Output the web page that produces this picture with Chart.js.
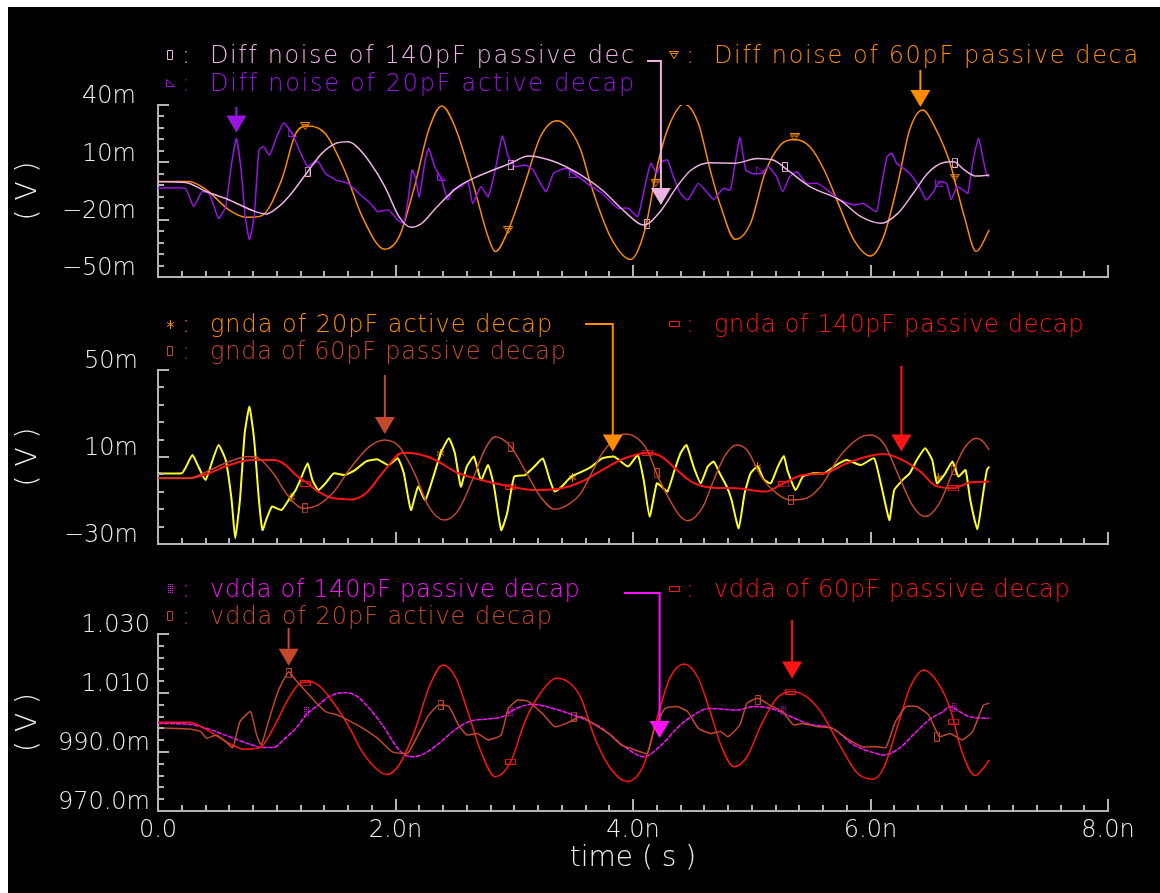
<!DOCTYPE html>
<html>
<head>
<meta charset="utf-8">
<title>decap noise waveforms</title>
<script src="https://cdn.jsdelivr.net/npm/chart.js@4.4.1/dist/chart.umd.min.js"></script>
<style>
  html, body { margin: 0; padding: 0; background: #fff; overflow: hidden; }
  #frame { position: absolute; left: 8px; top: 7px; width: 1152px; height: 886px; background: #000; }
  canvas { position: absolute; left: 0; top: 0; }
</style>
</head>
<body>
<div id="frame"></div>
<canvas id="p1" width="1160" height="893"></canvas>
<canvas id="p2" width="1160" height="893"></canvas>
<canvas id="p3" width="1160" height="893"></canvas>
<script>
// time axis, ns
const timeMajors = [0, 2, 4, 6, 8];
const timeLabels = ['0.0', '2.0n', '4.0n', '6.0n', '8.0n'];

// ---- panel 1 : Diff noise, mV ----
const diffTicks = [-50, -20, 10, 40];
const diffNoise140 = [[0,-0.1],[0.23,-0.5],[0.41,-5.4],[0.6,-9.7],[0.82,-15.8],[0.91,-17],[1.0,-14],[1.1,-8],[1.26,5.1],[1.38,14.7],[1.5,20],[1.6,20.8],[1.66,19],[1.79,9.5],[1.91,-2.7],[2.03,-18.4],[2.13,-24],[2.22,-22],[2.35,-13.2],[2.53,-2.7],[2.72,3.4],[2.97,9.5],[3.12,13.3],[3.34,10.3],[3.56,3.4],[3.74,-4.5],[3.93,-15.8],[4.09,-22.8],[4.24,-14.9],[4.37,-2.7],[4.49,6],[4.65,9.8],[4.86,9.5],[5.05,12],[5.18,11.2],[5.3,6],[5.49,-2.7],[5.74,-9.7],[5.92,-18.4],[6.09,-21.9],[6.23,-16.7],[6.36,-6.2],[6.48,4.2],[6.61,9.8],[6.7,10.3],[6.79,6],[6.89,2.8],[7.0,3.4]];
const diffNoise20 = [[0,-3.6],[0.23,-3.6],[0.3,-13.2],[0.37,-5.4],[0.43,-6.2],[0.51,-19.3],[0.57,-13.2],[0.62,9.5],[0.66,22.5],[0.7,6],[0.735,-18.4],[0.77,-30.6],[0.81,-18.4],[0.85,16.4],[0.89,18.2],[0.94,13.8],[1.0,23.4],[1.06,30.7],[1.13,25],[1.19,16.4],[1.26,7.7],[1.3,9.5],[1.35,10.3],[1.41,4.2],[1.5,0.7],[1.6,-1],[1.69,-6.2],[1.79,-11.5],[1.85,-15.8],[1.94,-14.9],[2.02,-20.2],[2.07,-21.9],[2.11,-8],[2.14,6],[2.17,1.6],[2.2,-8],[2.25,11.2],[2.28,17.3],[2.33,7.7],[2.39,0.7],[2.44,-9.7],[2.48,-4.5],[2.55,-2.7],[2.61,-0.1],[2.65,-11.5],[2.72,-2.7],[2.78,-8],[2.84,6],[2.9,23.8],[2.95,12.9],[3.01,7.7],[3.09,8.6],[3.16,6],[3.22,-1],[3.27,-5.4],[3.33,4.2],[3.44,6.9],[3.56,1.6],[3.65,-2.7],[3.74,-6.2],[3.87,-14],[3.96,-14],[4.04,-18.4],[4.1,-2.7],[4.15,9.5],[4.2,4.2],[4.24,10.3],[4.29,11.2],[4.34,2.5],[4.4,-6.2],[4.46,-9.7],[4.55,-1],[4.62,-5.4],[4.68,-9.4],[4.76,-3.6],[4.82,-4.5],[4.86,9.5],[4.9,23],[4.95,6],[5.0,4.2],[5.08,4.2],[5.14,7.7],[5.21,2.5],[5.26,-5.4],[5.32,2.5],[5.38,5.1],[5.46,-1],[5.55,-1],[5.64,-4.5],[5.74,-9.7],[5.86,-12.3],[5.94,-11.5],[6.05,-15.8],[6.09,-2.7],[6.14,13],[6.18,14.7],[6.22,9.5],[6.26,7.7],[6.33,4.2],[6.41,-2.7],[6.47,-9.7],[6.53,-5.4],[6.58,-0.1],[6.64,-1],[6.68,-9.4],[6.73,-2.7],[6.78,-4.5],[6.82,-6.2],[6.86,9.5],[6.91,22.5],[6.95,11.2],[6.98,3.1],[7.0,2.5]];
const diffNoise60 = [[0,0],[0.26,0],[0.41,-4.5],[0.6,-15],[0.75,-18.8],[0.87,-18],[1.04,0.7],[1.16,25],[1.26,29],[1.41,25],[1.57,6],[1.72,-18.4],[1.91,-35.5],[2.03,-29],[2.16,-2.7],[2.28,27],[2.39,39.5],[2.5,28.7],[2.66,-2.7],[2.78,-29],[2.84,-36.7],[2.95,-25.4],[3.09,-1],[3.22,23.4],[3.36,31.8],[3.47,27],[3.56,16.4],[3.65,-2.7],[3.81,-29],[3.98,-40.8],[4.1,-25.4],[4.21,9.5],[4.3,28.7],[4.43,40.5],[4.55,30.4],[4.65,6],[4.74,-13.2],[4.86,-30.3],[4.99,-21.9],[5.11,4.2],[5.24,19],[5.36,22],[5.49,18.2],[5.61,6],[5.74,-13.2],[5.86,-30.6],[6.0,-39],[6.11,-29],[6.23,-1],[6.33,27],[6.44,37.4],[6.54,28.7],[6.67,9.5],[6.73,-4.5],[6.79,-18.4],[6.89,-36.7],[7.0,-25.4]];
const diffMarks140 = [[1.26,5.1],[2.97,8.6],[4.12,-22.3],[5.28,7.5],[6.71,9.8]];
const diffMarks20 = [[1.13,25.5],[2.39,2.5],[3.5,3.9],[5.07,6],[6.58,-1]];
const diffMarks60 = [[1.24,29],[2.95,-25.4],[4.19,-1],[5.36,23],[6.71,2]];

// ---- panel 2 : gnda, mV ----
const gndaTicks = [-30, 10, 50];
const gnda20 = [[0,2.5],[0.2,2.5],[0.23,4.8],[0.29,10.9],[0.34,5.6],[0.4,-0.6],[0.46,8.6],[0.51,15.5],[0.57,8.6],[0.62,-9.8],[0.65,-27.4],[0.69,-9.8],[0.73,20.9],[0.77,33.1],[0.81,17.8],[0.85,-9.8],[0.88,-23.6],[0.91,-19],[0.96,-12.8],[1.04,-14.4],[1.1,-9.8],[1.16,-5.2],[1.21,1],[1.26,7.1],[1.3,-0.6],[1.35,-5.2],[1.41,-2.1],[1.48,2.5],[1.57,1.7],[1.66,4],[1.75,7.9],[1.85,8.9],[1.94,6.3],[2.02,9.4],[2.07,2.5],[2.13,-14.4],[2.19,-3.6],[2.25,-9.8],[2.31,-0.6],[2.38,11.7],[2.45,18.6],[2.5,11.7],[2.55,-3.6],[2.6,5.6],[2.66,10.2],[2.72,-0.6],[2.78,6.3],[2.83,-3.6],[2.89,-23.6],[2.94,-15.9],[3.0,1],[3.09,1.7],[3.17,5.6],[3.24,9.4],[3.3,-0.6],[3.34,-5.9],[3.4,-3.6],[3.48,1],[3.56,3],[3.65,5.6],[3.74,9.4],[3.84,10.2],[3.96,5.6],[4.04,10.9],[4.09,-0.6],[4.14,-17.4],[4.2,-2.1],[4.24,-3.6],[4.29,-5.9],[4.35,4],[4.4,11.7],[4.45,15.5],[4.51,5.6],[4.57,-2.1],[4.63,5.6],[4.68,7.9],[4.73,2.5],[4.79,-3.6],[4.83,-9.8],[4.89,-22.8],[4.94,-6.7],[4.99,2.5],[5.05,5.6],[5.1,-0.2],[5.16,-2.1],[5.22,5.6],[5.27,10.5],[5.3,4],[5.37,-5.2],[5.43,1],[5.52,2.5],[5.61,2.5],[5.71,6.3],[5.8,8.6],[5.92,6.3],[6.03,9.4],[6.08,-0.6],[6.13,-12.8],[6.16,-19],[6.2,-5.2],[6.27,-0.6],[6.33,2.5],[6.39,8.6],[6.46,14],[6.52,8.6],[6.56,-2.1],[6.63,2.5],[6.69,7.9],[6.74,1],[6.8,4],[6.84,-9.8],[6.9,-23.3],[6.94,-9.8],[6.98,4],[7.0,5.6]];
const gnda60 = [[0,0.2],[0.26,0.2],[0.41,3.3],[0.6,7.9],[0.76,10.2],[0.85,9.4],[0.97,2.5],[1.1,-8.2],[1.22,-13.6],[1.35,-12],[1.47,-6.7],[1.63,5.6],[1.78,14.8],[1.91,17.8],[2.03,14.8],[2.16,2.5],[2.28,-12.8],[2.41,-19],[2.53,-14.4],[2.66,1],[2.75,13.2],[2.84,19.3],[2.97,14.8],[3.09,4],[3.22,-8.2],[3.34,-14],[3.47,-11.3],[3.56,-6.7],[3.65,2.5],[3.74,11.7],[3.84,17.8],[3.93,20.6],[4.02,19.3],[4.12,13.2],[4.21,1],[4.31,-9.8],[4.4,-17.4],[4.46,-19.3],[4.59,-12.8],[4.68,-0.6],[4.77,10.2],[4.87,15.5],[4.96,13.2],[5.08,1],[5.21,-6.7],[5.33,-9.8],[5.46,-9],[5.58,-3.6],[5.74,10.2],[5.9,18.6],[6.0,20.1],[6.11,16.3],[6.24,1],[6.36,-12.8],[6.46,-17.4],[6.58,-11.3],[6.7,4],[6.8,14.8],[6.89,18.6],[6.95,17],[7.0,13.2]];
const gnda140 = [[0,0.2],[0.26,0.2],[0.41,2.2],[0.6,6.3],[0.79,8.6],[0.97,8.6],[1.07,6.5],[1.16,1.7],[1.26,-2.1],[1.35,-5.9],[1.48,-9],[1.63,-9.5],[1.75,-6.7],[1.91,4],[2.06,12],[2.19,11.4],[2.34,8.6],[2.5,3.3],[2.72,-0.6],[2.97,-3.6],[3.19,-5.2],[3.4,-4.4],[3.56,-1.5],[3.74,4],[3.93,9.4],[4.12,12],[4.24,10.2],[4.37,4],[4.49,-1.3],[4.65,-4],[4.87,-4.4],[5.12,-5.9],[5.24,-2.9],[5.43,1.7],[5.61,2.5],[5.8,7.1],[5.99,10.5],[6.11,11.4],[6.27,8.6],[6.42,3.3],[6.55,-3.3],[6.7,-4.4],[6.83,-1.8],[7.0,-1.3]];
const gndaMarks20 = [[1.12,-8.5],[2.38,11.7],[3.49,0.5],[5.05,5.6],[6.57,0.5]];
const gndaMarks60 = [[1.24,-13.6],[2.97,14.8],[4.2,2.5],[5.33,-9.8],[6.7,4]];
const gndaMarks140 = [[1.24,-2.4],[2.97,-3.6],[4.12,12],[5.27,-2.6],[6.7,-4.4]];

// ---- panel 3 : vdda, mV ----
const vddaTicks = [970, 990, 1010, 1030];
const vdda140 = [[0,999.7],[0.26,999.4],[0.41,998],[0.6,995.2],[0.79,992.4],[0.88,991.5],[0.97,991.5],[1.07,994.6],[1.16,998],[1.26,1003.1],[1.35,1005.9],[1.44,1008.8],[1.57,1010.1],[1.66,1009.3],[1.78,1004.8],[1.91,998],[2.03,990.7],[2.13,988.4],[2.22,989],[2.35,992.4],[2.5,997.5],[2.63,1000.5],[2.78,1001.2],[2.9,1002],[2.99,1004.2],[3.15,1006.2],[3.34,1004.6],[3.5,1002.5],[3.56,1001.6],[3.74,998],[3.93,991.8],[4.09,988.4],[4.24,992.4],[4.37,998],[4.49,1002],[4.65,1004.8],[4.87,1004.2],[5.02,1005.4],[5.18,1004.6],[5.3,1002.5],[5.49,999.4],[5.68,998],[5.86,992.4],[6.05,989.5],[6.11,989],[6.24,991.2],[6.36,995.8],[6.49,1000.8],[6.61,1003.7],[6.67,1005.4],[6.73,1004.2],[6.83,1002],[7.0,1001.4]];
const vdda20 = [[0,998.2],[0.26,997.8],[0.36,996.9],[0.41,994.6],[0.49,995.8],[0.57,993.5],[0.63,991.5],[0.69,1000.3],[0.78,1003.7],[0.83,995.8],[0.87,992.4],[0.93,1000.3],[1.01,1010.5],[1.1,1017.2],[1.16,1014.4],[1.26,1009.9],[1.35,1005.9],[1.41,1003.7],[1.51,1002.5],[1.6,1000.8],[1.72,998.2],[1.85,994.6],[1.97,990.1],[2.1,989.5],[2.19,995.8],[2.28,1002.5],[2.36,1005.9],[2.45,1005.4],[2.53,999.2],[2.6,995.8],[2.69,996.3],[2.78,994.1],[2.89,995.8],[2.95,1004.8],[3.03,1007.6],[3.12,1007.1],[3.25,1002.5],[3.34,998.6],[3.44,999.7],[3.56,1002],[3.68,999.2],[3.81,995.8],[3.9,992.4],[4.02,990.7],[4.12,989.5],[4.18,998],[4.27,1004.8],[4.37,1005.4],[4.46,1003.7],[4.55,998],[4.65,996.3],[4.74,996.9],[4.8,995.2],[4.9,999.2],[4.96,1006.5],[5.05,1008.2],[5.15,1005.9],[5.26,1003.7],[5.35,999.2],[5.43,999.7],[5.55,998.6],[5.68,998],[5.8,994.6],[5.93,991.8],[6.05,991.8],[6.13,991.5],[6.21,1000.3],[6.3,1005.4],[6.39,1005.4],[6.49,1002.5],[6.58,995.2],[6.67,996.3],[6.77,994.1],[6.86,996.9],[6.95,1005.9],[7.0,1006.5]];
const vdda60 = [[0,1000.1],[0.26,1000.1],[0.41,997.5],[0.6,992.9],[0.73,990.9],[0.86,991.5],[0.97,998],[1.1,1008.2],[1.19,1013.1],[1.29,1013.8],[1.38,1011.6],[1.47,1007.1],[1.6,999.2],[1.72,990.1],[1.85,983.9],[1.93,982.4],[2.03,985.6],[2.16,996.9],[2.29,1012.7],[2.4,1019.5],[2.51,1015],[2.6,1004.8],[2.72,990.1],[2.84,981.6],[2.97,986.7],[3.09,1000.3],[3.22,1009.9],[3.36,1015],[3.47,1013.3],[3.56,1008.5],[3.68,994.6],[3.81,984.5],[3.95,980],[4.09,985.6],[4.21,1002.5],[4.31,1015],[4.43,1019.8],[4.55,1015],[4.65,1003.7],[4.74,992.4],[4.85,985],[4.96,988.4],[5.08,999.2],[5.21,1008.2],[5.33,1010.5],[5.46,1008.8],[5.58,1003.7],[5.74,992.4],[5.89,982.8],[6.02,980.8],[6.11,984.5],[6.24,1000.3],[6.33,1011.6],[6.45,1017.8],[6.58,1012.7],[6.67,1004.8],[6.77,990.1],[6.88,982],[6.95,984.5],[7.0,987.3]];
const vddaMarks140 = [[1.25,1003.5],[2.97,1003.5],[5.27,1004],[6.71,1005]];
const vddaMarks20 = [[1.1,1016.7],[2.38,1005.9],[3.5,1002],[5.05,1007.6],[6.56,995.2]];
const vddaMarks60 = [[1.24,1013.3],[2.97,986.7],[5.33,1010.5],[6.7,1000.3]];

const W = 1160, H = 893;
const AXIS = '#b4b4b4', LABEL = '#eeeeee';
const PINK = '#eeb2e2', PURPLE = '#9a14e6', ORANGE = '#ff8c00', YELLOW = '#ffff20';
const BROWN = '#c4482c', RED = '#ff1414', MAGENTA = '#ff10ff';
const tickFont = { family: "'DejaVu Sans', sans-serif", size: 24, weight: 200 };
const titleFont = { family: "'DejaVu Sans', sans-serif", size: 28, weight: 200 };
const legendFont = "200 24px 'DejaVu Sans', sans-serif";
const legendCell = 13.72; // fixed character pitch of the legend rows

function withMinor(majors, n) {
  const out = [];
  for (let i = 0; i < majors.length - 1; i++) {
    for (let k = 0; k < n; k++) out.push(majors[i] + (majors[i + 1] - majors[i]) * k / n);
  }
  out.push(majors[majors.length - 1]);
  return out;
}
const isMajor = (v, majors) => majors.some(m => Math.abs(m - v) < 1e-6);
const fmtMilli = v => (v < 0 ? '\u2212' : '') + Math.abs(v) + 'm';
const fmtVdd = v => v >= 1000 ? (v / 1000).toFixed(3) : v.toFixed(1) + 'm';
const timeTicks = withMinor(timeMajors, 10);

function marker(kind, color) {
  const sz = { box: [6, 10], wide: [11, 6], tri: [10, 8], corner: [9, 8], dots: [5, 10], star: [7, 9] }[kind];
  const c = document.createElement('canvas');
  c.width = sz[0]; c.height = sz[1];
  const g = c.getContext('2d');
  g.strokeStyle = color; g.fillStyle = color; g.lineWidth = 1;
  g.beginPath();
  if (kind === 'box' || kind === 'wide') {
    g.rect(0.5, 0.5, c.width - 1, c.height - 1);
  } else if (kind === 'tri') {
    g.moveTo(0.5, 0.5); g.lineTo(c.width - 0.5, 0.5); g.lineTo(c.width / 2, c.height - 0.5); g.closePath();
    g.moveTo(2, 2.5); g.lineTo(c.width - 2, 2.5);
  } else if (kind === 'corner') {
    g.moveTo(0.5, 0.5); g.lineTo(0.5, c.height - 0.5); g.lineTo(c.width - 0.5, c.height - 0.5); g.closePath();
  } else if (kind === 'dots') {
    for (let y = 0; y < c.height; y += 2) for (let x = 0; x < c.width; x += 2) g.fillRect(x, y, 1, 1);
  } else if (kind === 'star') {
    g.moveTo(3.5, 0); g.lineTo(3.5, 9); g.moveTo(0, 2.5); g.lineTo(7, 6.5); g.moveTo(0, 6.5); g.lineTo(7, 2.5);
  }
  g.stroke();
  return c;
}

const panels = [
  {
    canvas: 'p1', top: 105, bottom: 277, min: -50, max: 40, majors: diffTicks, fmt: fmtMilli, labelPad: 22, showTime: false,
    lines: [
      { data: diffNoise140, color: PINK, smooth: true },
      { data: diffNoise20, color: PURPLE },
      { data: diffNoise60, color: ORANGE, smooth: true }
    ],
    marks: [
      { data: diffMarks140, kind: 'box', color: PINK },
      { data: diffMarks20, kind: 'corner', color: PURPLE },
      { data: diffMarks60, kind: 'tri', color: ORANGE }
    ],
    legend: [
      { x: 170, y: 63, kind: 'box', color: PINK, text: 'Diff noise of 140pF passive dec' },
      { x: 170, y: 91, kind: 'corner', color: PURPLE, text: 'Diff noise of 20pF active decap' },
      { x: 674, y: 63, kind: 'tri', color: ORANGE, text: 'Diff noise of 60pF passive deca' }
    ],
    arrows: [
      { t: 0.66, v: 22.5, from: 107, gap: 6, color: PURPLE },
      { t: 4.235, v: -14.9, from: 61, elbow: 647, gap: 5, color: PINK },
      { t: 6.42, v: 37.4, from: 70, gap: 3, color: ORANGE }
    ]
  },
  {
    canvas: 'p2', top: 370, bottom: 544, min: -30, max: 50, majors: gndaTicks, fmt: fmtMilli, labelPad: 20, showTime: false,
    lines: [
      { data: gnda60, color: BROWN, smooth: true },
      { data: gnda140, color: RED, smooth: true, width: 2 },
      { data: gnda20, color: YELLOW, width: 2 }
    ],
    marks: [
      { data: gndaMarks60, kind: 'box', color: BROWN },
      { data: gndaMarks140, kind: 'wide', color: RED },
      { data: gndaMarks20, kind: 'star', color: ORANGE }
    ],
    legend: [
      { x: 170, y: 332, kind: 'star', color: ORANGE, text: 'gnda of 20pF active decap' },
      { x: 170, y: 359, kind: 'box', color: BROWN, text: 'gnda of 60pF passive decap' },
      { x: 674, y: 332, kind: 'wide', color: RED, text: 'gnda of 140pF passive decap' }
    ],
    arrows: [
      { t: 1.91, v: 17.8, from: 375, gap: 6, color: BROWN },
      { t: 3.83, v: 10.2, from: 324, elbow: 585, gap: 5, color: ORANGE },
      { t: 6.26, v: 8.8, from: 366, gap: 8, color: RED }
    ]
  },
  {
    canvas: 'p3', top: 634, bottom: 811, min: 970, max: 1030, majors: vddaTicks, fmt: fmtVdd, labelPad: 8, showTime: true,
    lines: [
      { data: vdda20, color: BROWN },
      { data: vdda60, color: RED, smooth: true },
      { data: vdda140, color: MAGENTA, smooth: true, dash: [5, 1] }
    ],
    marks: [
      { data: vddaMarks20, kind: 'box', color: BROWN },
      { data: vddaMarks60, kind: 'wide', color: RED },
      { data: vddaMarks140, kind: 'dots', color: MAGENTA }
    ],
    legend: [
      { x: 170, y: 597, kind: 'dots', color: MAGENTA, text: 'vdda of 140pF passive decap' },
      { x: 170, y: 624, kind: 'box', color: BROWN, text: 'vdda of 20pF active decap' },
      { x: 674, y: 597, kind: 'wide', color: RED, text: 'vdda of 60pF passive decap' }
    ],
    arrows: [
      { t: 1.1, v: 1017.2, from: 628, gap: 6, color: BROWN },
      { t: 4.224, v: 992, from: 593, elbow: 624, gap: 8, color: MAGENTA },
      { t: 5.34, v: 1010.5, from: 620, gap: 13, color: RED }
    ]
  }
];

// inward ticks, legend rows and the arrow call-outs
const decor = {
  id: 'decor',
  afterDraw(chart) {
    const p = chart.config.options.panel;
    const { ctx, chartArea: a } = chart;
    const xs = chart.scales.x, ys = chart.scales.y;
    ctx.save();
    ctx.strokeStyle = AXIS;
    ctx.lineWidth = 2;
    ctx.beginPath();
    withMinor(p.majors, 5).forEach(v => {
      const py = Math.round(ys.getPixelForValue(v));
      ctx.moveTo(a.left, py); ctx.lineTo(a.left + (isMajor(v, p.majors) ? 11 : 6), py);
    });
    timeTicks.forEach(v => {
      const px = Math.round(xs.getPixelForValue(v));
      ctx.moveTo(px, a.bottom); ctx.lineTo(px, a.bottom - (isMajor(v, timeMajors) ? 12 : 6));
    });
    ctx.stroke();

    ctx.font = legendFont;
    ctx.textBaseline = 'alphabetic';
    p.legend.forEach(l => {
      const m = marker(l.kind, l.color);
      ctx.drawImage(m, Math.round(l.x - m.width / 2), Math.round(l.y - 8 - m.height / 2));
      ctx.fillStyle = l.color;
      ctx.letterSpacing = '0px';
      ctx.fillText(':', l.x + 12, l.y);
      const w = ctx.measureText(l.text).width;
      ctx.letterSpacing = ((legendCell * l.text.length - w) / l.text.length).toFixed(2) + 'px';
      ctx.fillText(l.text, l.x + 40, l.y);
      ctx.letterSpacing = '0px';
    });

    p.arrows.forEach(r => {
      const px = xs.getPixelForValue(r.t);
      const tip = ys.getPixelForValue(r.v) - r.gap;
      ctx.strokeStyle = r.color; ctx.fillStyle = r.color; ctx.lineWidth = 2;
      ctx.beginPath();
      if (r.elbow) { ctx.moveTo(r.elbow, r.from); ctx.lineTo(px, r.from); }
      else ctx.moveTo(px, r.from);
      ctx.lineTo(px, tip - 16);
      ctx.stroke();
      ctx.beginPath();
      ctx.moveTo(px - 10, tip - 17); ctx.lineTo(px + 10, tip - 17); ctx.lineTo(px, tip); ctx.closePath();
      ctx.fill();
    });
    ctx.restore();
  }
};

panels.forEach(p => {
  const xH = p.showTime ? H - p.bottom : 10;
  const datasets = p.lines.map(s => ({
    data: s.data.map(([x, y]) => ({ x, y })),
    borderColor: s.color,
    borderWidth: s.width || 1.5,
    borderDash: s.dash || [],
    pointRadius: 0,
    tension: s.smooth ? 0.4 : 0.15,
    cubicInterpolationMode: s.smooth ? 'monotone' : 'default',
    fill: false
  })).concat(p.marks.map(m => ({
    data: m.data.map(([x, y]) => ({ x, y })),
    showLine: false,
    pointStyle: marker(m.kind, m.color),
    pointRadius: 5,
    borderWidth: 0
  })));

  new Chart(document.getElementById(p.canvas), {
    type: 'line',
    data: { datasets },
    options: {
      panel: p,
      responsive: false,
      animation: false,
      events: [],
      layout: { padding: { left: 8, right: W - 1108, top: p.top, bottom: H - p.bottom - xH } },
      plugins: { legend: { display: false }, tooltip: { enabled: false } },
      scales: {
        x: {
          type: 'linear', min: 0, max: 8,
          afterFit: s => { s.height = xH; },
          afterBuildTicks: s => { s.ticks = timeTicks.map(v => ({ value: v })); },
          grid: { drawOnChartArea: false, drawTicks: false },
          border: { display: true, color: AXIS, width: 2 },
          ticks: {
            display: p.showTime, autoSkip: false, maxRotation: 0, padding: 5, color: LABEL, font: tickFont,
            callback: v => { const i = timeMajors.findIndex(m => Math.abs(m - v) < 1e-6); return i >= 0 ? timeLabels[i] : ''; }
          },
          title: { display: p.showTime, text: 'time ( s )', color: LABEL, font: titleFont, padding: { top: 0, bottom: 17 } }
        },
        y: {
          type: 'linear', min: p.min, max: p.max,
          afterFit: s => { s.width = 150; },
          afterBuildTicks: s => { s.ticks = withMinor(p.majors, 5).map(v => ({ value: v })); },
          grid: { drawOnChartArea: false, drawTicks: false },
          border: { display: true, color: AXIS, width: 2 },
          ticks: {
            autoSkip: false, padding: p.labelPad, labelOffset: -8, color: LABEL, font: tickFont,
            callback: v => isMajor(v, p.majors) ? p.fmt(v) : ''
          },
          title: { display: true, text: '( V )', color: LABEL, font: titleFont, padding: { top: 4, bottom: 0 } }
        }
      }
    },
    plugins: [decor]
  });
});
</script>
</body>
</html>
